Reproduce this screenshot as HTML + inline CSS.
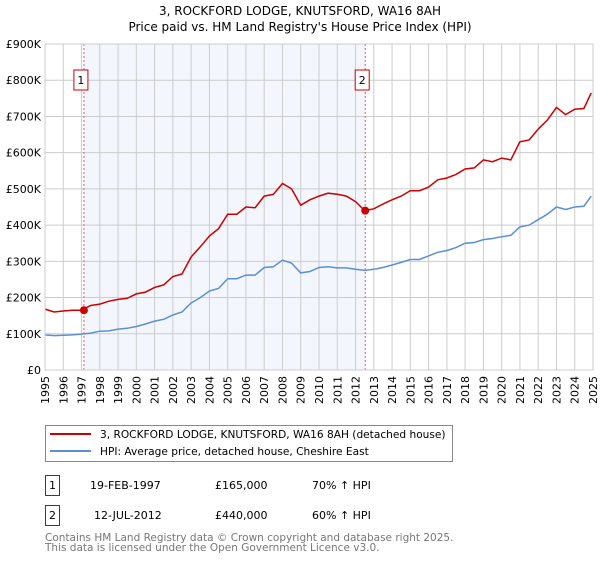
<!DOCTYPE html>
<html><head><meta charset="utf-8"><style>
body{margin:0;background:#fff;}
svg text{font-family:"DejaVu Sans","Liberation Sans",sans-serif;}
</style></head><body>
<svg width="600" height="560" xmlns="http://www.w3.org/2000/svg">
<text x="300" y="15" text-anchor="middle" font-size="12">3, ROCKFORD LODGE, KNUTSFORD, WA16 8AH</text>
<text x="300" y="31" text-anchor="middle" font-size="12">Price paid vs. HM Land Registry's House Price Index (HPI)</text>
<g id="plot"></g>
<g>
<rect x="45.5" y="425.5" width="407" height="36" fill="#fff" stroke="#888"/>
<line x1="50" y1="434" x2="91" y2="434" stroke="#cc0000" stroke-width="2"/>
<text x="100" y="438" font-size="10.6">3, ROCKFORD LODGE, KNUTSFORD, WA16 8AH (detached house)</text>
<line x1="50" y1="451" x2="91" y2="451" stroke="#5b8fd4" stroke-width="2"/>
<text x="100" y="455" font-size="10.6">HPI: Average price, detached house, Cheshire East</text>
</g>
<g font-size="11">
<rect x="45.5" y="475.5" width="14" height="20" fill="none" stroke="#cc0000"/>
<text x="52.5" y="489" text-anchor="middle">1</text>
<text x="90" y="489">19-FEB-1997</text>
<text x="215" y="489">£165,000</text>
<text x="312" y="489">70% ↑ HPI</text>
<rect x="45.5" y="505.5" width="14" height="20" fill="none" stroke="#cc0000"/>
<text x="52.5" y="519" text-anchor="middle">2</text>
<text x="94" y="519">12-JUL-2012</text>
<text x="215" y="519">£440,000</text>
<text x="312" y="519">60% ↑ HPI</text>
</g>
<text x="45" y="541" font-size="10.5" fill="#777">Contains HM Land Registry data © Crown copyright and database right 2025.</text>
<text x="45" y="551" font-size="10.5" fill="#777">This data is licensed under the Open Government Licence v3.0.</text>
</svg>
<script>
const years=[1995,1995.5,1996,1996.5,1997,1997.5,1998,1998.5,1999,1999.5,2000,2000.5,2001,2001.5,2002,2002.5,2003,2003.5,2004,2004.5,2005,2005.5,2006,2006.5,2007,2007.5,2008,2008.5,2009,2009.5,2010,2010.5,2011,2011.5,2012,2012.5,2013,2013.5,2014,2014.5,2015,2015.5,2016,2016.5,2017,2017.5,2018,2018.5,2019,2019.5,2020,2020.5,2021,2021.5,2022,2022.5,2023,2023.5,2024,2024.5,2024.9];
const hpiValues=[97,95,96,97,99,102,107,108,113,115,120,127,135,140,152,160,185,200,218,225,252,252,262,262,283,285,303,295,268,272,283,285,282,282,278,275,278,283,290,297,305,305,315,325,330,338,350,352,360,363,368,372,395,400,415,430,450,443,450,452,480];
const priceValues=[168,160,163,165,165,178,182,190,195,198,210,215,228,235,258,265,312,340,370,390,430,430,450,448,480,485,515,500,455,470,480,488,485,480,465,440,445,458,470,480,495,495,505,525,530,540,555,558,580,575,585,580,630,635,665,690,725,705,720,722,765];
const yTicks=[0,100,200,300,400,500,600,700,800,900];
const yTickLabels=["£0","£100K","£200K","£300K","£400K","£500K","£600K","£700K","£800K","£900K"];
const saleYears=[1997.13,2012.53];
const salePrices=[165,440];
const saleLabels=["1","2"];
const X0=45,X1=593,Y0=370,Y1=44;
const xs=y=>X0+(y-1995)/30*(X1-X0);
const ys=v=>Y0-v/900*(Y0-Y1);
const NS="http://www.w3.org/2000/svg";
const g=document.getElementById('plot');
function mk(t,a){const e=document.createElementNS(NS,t);for(const k in a)e.setAttribute(k,a[k]);g.appendChild(e);return e;}
let r=mk('rect',{x:xs(saleYears[0]),y:Y1,width:xs(saleYears[1])-xs(saleYears[0]),height:Y0-Y1,fill:'#f0f4fd',opacity:0.8});


for(let yr=1995;yr<=2025;yr++){
 let l=mk('line',{x1:xs(yr),x2:xs(yr),y1:Y1,y2:Y0,stroke:'#cccccc'});
 
 
 let t=mk('text',{x:0,y:0,'font-size':11,'text-anchor':'end',transform:`translate(${xs(yr)+4},${Y0+6}) rotate(-90)`});
 t.textContent=yr;
 
 
}
yTicks.forEach((v,i)=>{
 let l=mk('line',{x1:X0,x2:X1,y1:ys(v),y2:ys(v),stroke:'#cccccc'});
 
 
 let t=mk('text',{x:X0-4,y:ys(v)+4,'font-size':11,'text-anchor':'end'});
 t.textContent=yTickLabels[i];
 
 
});
saleYears.forEach((sy,i)=>{
 let l=mk('line',{x1:xs(sy),x2:xs(sy),y1:Y1,y2:Y0,stroke:'#e06060','stroke-dasharray':'2,2'});
 
 
 let b=mk('rect',{x:xs(sy)-10,y:70,width:14,height:20,fill:'#fff',stroke:'#cc0000'});
 
 
 let t=mk('text',{x:xs(sy)-3,y:84,'font-size':11,'text-anchor':'middle'});
 t.textContent=saleLabels[i];
 
 
});
const pts=arr=>arr.map((v,i)=>xs(years[i]).toFixed(1)+','+ys(v).toFixed(1)).join(' ');
let hl=mk('polyline',{points:pts(hpiValues),fill:'none',stroke:'#5b8fd4','stroke-width':1.5});


let pl=mk('polyline',{points:pts(priceValues),fill:'none',stroke:'#cc0000','stroke-width':1.5});


saleYears.forEach((sy,i)=>{
 let c=mk('circle',{cx:xs(sy),cy:ys(salePrices[i]),r:4,fill:'#cc0000'});
 
 
});
let ax=mk('rect',{x:X0,y:Y1,width:X1-X0,height:Y0-Y1,fill:'none',stroke:'#cccccc'});


</script>
</body></html>
